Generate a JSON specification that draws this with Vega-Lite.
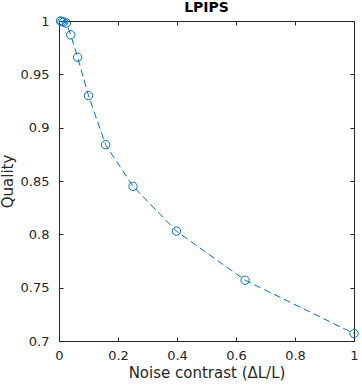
{
  "$schema": "https://vega.github.io/schema/vega-lite/v6.json",
  "width": 295,
  "height": 320,
  "autosize": {"type": "none"},
  "padding": {"left": 59, "top": 21, "right": 8, "bottom": 44},
  "title": {"text": "LPIPS", "font": "DejaVu Sans", "fontSize": 14, "fontWeight": "bold", "color": "#000000", "offset": 0, "anchor": "middle"},
  "data": {"values": [
    {"c": 0.005, "q": 1.0},
    {"c": 0.01, "q": 0.9995},
    {"c": 0.0158, "q": 0.999},
    {"c": 0.0251, "q": 0.998},
    {"c": 0.0398, "q": 0.987},
    {"c": 0.0631, "q": 0.966},
    {"c": 0.1, "q": 0.930},
    {"c": 0.158, "q": 0.884},
    {"c": 0.251, "q": 0.845},
    {"c": 0.398, "q": 0.803},
    {"c": 0.631, "q": 0.757},
    {"c": 1.0, "q": 0.707}
  ]},
  "layer": [
    {
      "mark": {"type": "line", "color": "#0072BD", "strokeWidth": 1, "strokeDash": [7, 4]},
      "encoding": {
        "x": {"field": "c", "type": "quantitative", "scale": {"domain": [0, 1], "nice": false, "zero": false},
          "axis": {"orient": "bottom", "title": "Noise contrast (ΔL/L)", "values": [0, 0.2, 0.4, 0.6, 0.8, 1], "format": "~g", "tickSize": -4, "labelPadding": 12, "titlePadding": 3}},
        "y": {"field": "q", "type": "quantitative", "scale": {"domain": [0.7, 1], "nice": false, "zero": false},
          "axis": {"orient": "left", "title": "Quality", "values": [0.7, 0.75, 0.8, 0.85, 0.9, 0.95, 1], "format": "~g", "tickSize": -4, "labelPadding": 14, "titlePadding": 5}}
      }
    },
    {
      "mark": {"type": "point", "shape": "circle", "filled": false, "color": "#0072BD", "size": 70, "strokeWidth": 1, "opacity": 1},
      "encoding": {
        "x": {"field": "c", "type": "quantitative", "scale": {"domain": [0, 1], "nice": false, "zero": false},
          "axis": {"orient": "top", "title": null, "labels": false, "values": [0, 0.2, 0.4, 0.6, 0.8, 1], "tickSize": -4}},
        "y": {"field": "q", "type": "quantitative", "scale": {"domain": [0.7, 1], "nice": false, "zero": false},
          "axis": {"orient": "right", "title": null, "labels": false, "values": [0.7, 0.75, 0.8, 0.85, 0.9, 0.95, 1], "tickSize": -4}}
      }
    }
  ],
  "resolve": {"axis": {"x": "independent", "y": "independent"}},
  "config": {
    "view": {"stroke": "#262626", "strokeWidth": 1},
    "axis": {"grid": false, "domainColor": "#262626", "tickColor": "#262626", "labelColor": "#262626", "titleColor": "#262626",
      "labelFont": "DejaVu Sans", "titleFont": "DejaVu Sans", "labelFontSize": 13, "titleFontSize": 15, "titleFontWeight": "normal",
      "labelFlush": false, "labelOverlap": false}
  }
}
